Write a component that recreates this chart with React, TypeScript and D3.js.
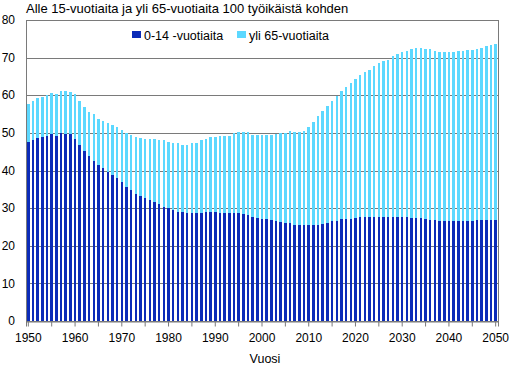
import React, { useEffect, useRef } from "react";
import * as d3 from "d3";

// vuodet 1950-2050
const years: number[] = d3.range(1950, 2051);

// 0-14 -vuotiaita 100 työikäistä kohden
const young: number[] = [
  47.6, 48.1, 48.6, 48.8, 49.1, 49.6, 49.2, 49.9, 49.6, 49.6,
  48.3, 46.8, 45.2, 43.8, 42.6, 41.5, 40.6, 39.7, 38.8, 38.0,
  37.0, 35.7, 34.8, 33.8, 33.2, 32.7, 32.1, 31.7, 31.1, 30.4,
  30.1, 29.6, 29.0, 28.9, 28.8, 28.8, 28.8, 28.8, 28.9, 29.0,
  29.0, 28.8, 28.8, 28.8, 28.8, 28.8, 28.5, 28.2, 27.6, 27.5,
  27.2, 27.1, 26.8, 26.6, 26.4, 26.1, 26.1, 25.5, 25.4, 25.4,
  25.4, 25.4, 25.6, 25.9, 26.1, 26.5, 26.7, 27.0, 27.1, 27.2,
  27.4, 27.6, 27.6, 27.6, 27.6, 27.6, 27.6, 27.6, 27.6, 27.6,
  27.6, 27.6, 27.4, 27.4, 27.4, 27.1, 26.9, 26.8, 26.7, 26.7,
  26.7, 26.7, 26.7, 26.7, 26.7, 26.7, 26.8, 26.9, 26.9, 26.9,
  26.9,
];

// yli 65-vuotiaita 100 työikäistä kohden
const old: number[] = [
  10.2, 10.4, 10.7, 10.8, 10.9, 11.0, 11.0, 11.2, 11.5, 11.3,
  11.9, 11.7, 11.8, 11.8, 12.3, 12.3, 12.6, 12.8, 13.2, 13.5,
  13.7, 14.3, 14.6, 15.0, 15.4, 15.8, 16.4, 16.8, 17.1, 17.6,
  17.6, 17.6, 18.2, 18.0, 17.9, 18.4, 18.6, 19.2, 19.5, 19.8,
  19.9, 20.3, 20.3, 20.5, 21.2, 21.3, 21.6, 21.9, 21.9, 22.0,
  22.3, 22.4, 22.7, 23.2, 23.6, 23.9, 24.4, 24.6, 24.9, 25.1,
  26.2, 27.6, 28.8, 30.0, 31.1, 32.0, 33.1, 34.2, 35.2, 36.1,
  37.0, 37.9, 38.7, 39.2, 40.1, 40.9, 41.4, 41.9, 42.8, 43.3,
  43.8, 44.1, 44.9, 45.1, 45.1, 45.2, 45.4, 44.9, 44.7, 44.7,
  44.7, 44.7, 45.0, 45.0, 45.3, 45.3, 45.5, 45.6, 46.1, 46.4,
  46.7,
];

const seriesNames: string[] = ["0-14 -vuotiaita", "yli 65-vuotiaita"];
const seriesColors: string[] = ["#0b2bb8", "#5cd8ff"];
const yTicks: number[] = [0, 10, 20, 30, 40, 50, 60, 70, 80];

const title = "Alle 15-vuotiaita ja yli 65-vuotiaita 100 työikäistä kohden";
const xTitle = "Vuosi";

const W = 510;
const H = 371;
const margin = { left: 26, right: 12, top: 20, bottom: 50 };
const FONT = "'Liberation Sans', Arial, sans-serif";

const App = () => {
  const svgRef = useRef<SVGSVGElement>(null);

  useEffect(() => {
    const svg = d3.select(svgRef.current);
    svg.selectAll("*").remove();

    const x0 = margin.left;
    const x1 = W - margin.right;
    const y0 = H - margin.bottom;
    const y1 = margin.top;

    const x = d3.scaleBand<number>()
      .domain(years)
      .range([x0, x1])
      .paddingInner(0.46)
      .paddingOuter(0.23);

    const y = d3.scaleLinear().domain([0, 80]).range([y0, y1]);

    const rows = years.map((yr, i) => ({ year: yr, young: young[i], old: old[i] }));
    const stacked = d3.stack<any>().keys(["young", "old"])(rows);

    // gridlines
    svg.append("g")
      .selectAll("line")
      .data(yTicks.filter(t => t > 0 && t < 80))
      .join("line")
      .attr("x1", x0)
      .attr("x2", x1)
      .attr("y1", d => Math.round(y(d)) + 0.5)
      .attr("y2", d => Math.round(y(d)) + 0.5)
      .attr("stroke", "#7a7a7a")
      .attr("stroke-width", 1);

    // bars
    svg.append("g")
      .selectAll("g")
      .data(stacked)
      .join("g")
      .attr("fill", (_d, i) => seriesColors[i])
      .selectAll("rect")
      .data(d => d)
      .join("rect")
      .attr("shape-rendering", "crispEdges")
      .attr("x", d => x(d.data.year) as number)
      .attr("width", x.bandwidth())
      .attr("y", d => y(d[1]))
      .attr("height", d => y(d[0]) - y(d[1]));

    // frame
    svg.append("rect")
      .attr("x", x0 + 0.5)
      .attr("y", Math.round(y1) + 0.5)
      .attr("width", x1 - x0)
      .attr("height", y0 - y1)
      .attr("fill", "none")
      .attr("stroke", "#7a7a7a");

    // x-akseli
    const xAxis = d3.axisBottom(x)
      .tickValues(years.filter(yr => yr % 5 === 0))
      .tickFormat(yr => (yr % 10 === 0 ? String(yr) : ""))
      .tickSize(5)
      .tickPadding(7);

    const gx = svg.append("g")
      .attr("transform", `translate(0, ${y0 + 0.5})`)
      .call(xAxis);
    gx.select(".domain").attr("stroke", "#7a7a7a");
    gx.selectAll(".tick line").attr("stroke", "#7a7a7a");
    gx.selectAll("text")
      .attr("fill", "#000")
      .style("font-family", FONT)
      .style("font-size", "12px");

    // y-akseli
    svg.append("g")
      .selectAll("text")
      .data(yTicks)
      .join("text")
      .attr("x", 15)
      .attr("y", d => y(d))
      .attr("dy", "0.35em")
      .attr("text-anchor", "end")
      .style("font-family", FONT)
      .style("font-size", "12px")
      .text(d => d);

    // otsikko
    svg.append("text")
      .attr("x", 26)
      .attr("y", 13)
      .style("font-family", FONT)
      .style("font-size", "13px")
      .text(title);

    svg.append("text")
      .attr("x", 265)
      .attr("y", 363)
      .attr("text-anchor", "middle")
      .style("font-family", FONT)
      .style("font-size", "12.5px")
      .text(xTitle);

    // selite
    const legendX = [132, 237];
    const legend = svg.append("g")
      .selectAll("g")
      .data(seriesNames)
      .join("g")
      .attr("transform", (_d, i) => `translate(${legendX[i]}, 31)`);
    legend.append("rect")
      .attr("width", 9)
      .attr("height", 7)
      .attr("fill", (_d, i) => seriesColors[i]);
    legend.append("text")
      .attr("x", 12)
      .attr("y", 9)
      .style("font-family", FONT)
      .style("font-size", "12.5px")
      .text(d => d);
  }, []);

  return (
    <div style={{ position: "fixed", left: 0, top: 0, background: "#fff" }}>
      <svg ref={svgRef} width={W} height={H} style={{ display: "block" }} />
    </div>
  );
};

export default App;
